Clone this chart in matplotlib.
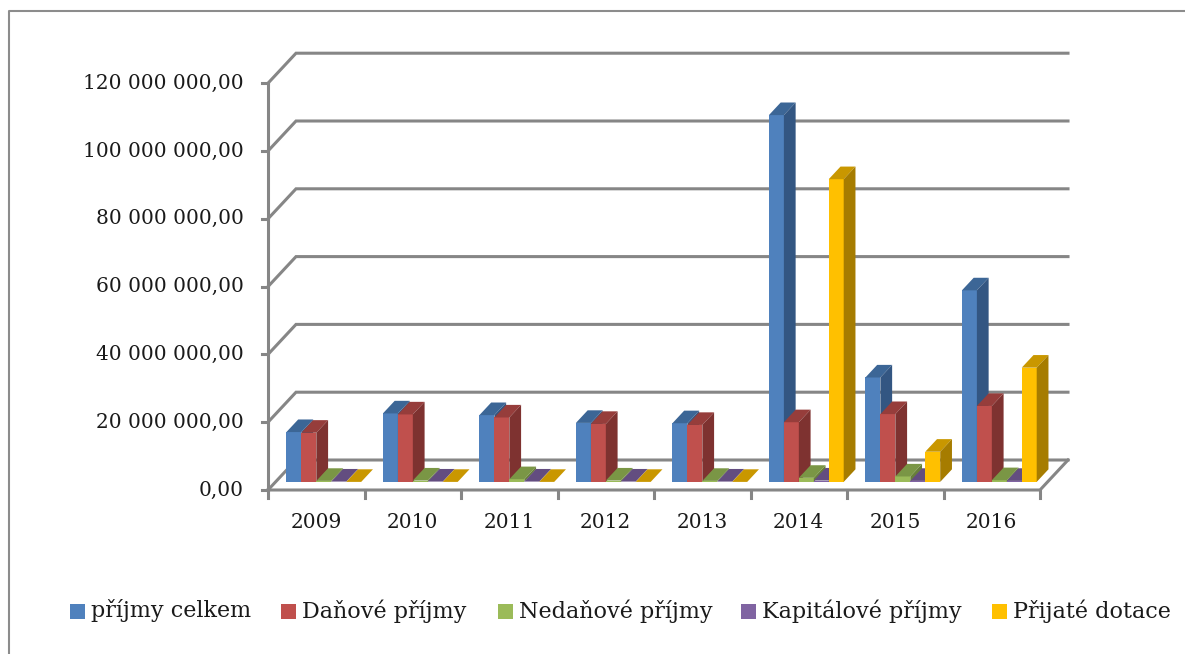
import numpy as np
import matplotlib
matplotlib.use("Agg")
import matplotlib.pyplot as plt
from matplotlib.patches import Polygon, Rectangle

# values in millions CZK
years = ["2009", "2010", "2011", "2012", "2013", "2014", "2015", "2016"]
series_names = ["příjmy celkem", "Daňové příjmy", "Nedaňové příjmy",
                "Kapitálové příjmy", "Přijaté dotace"]
prijmy_celkem = [14.7, 20.2, 19.7, 17.4, 17.3, 108.2, 30.8, 56.5]
danove = [14.5, 19.9, 19.0, 17.1, 16.8, 17.6, 20.0, 22.4]
nedanove = [0.3, 0.4, 0.8, 0.4, 0.3, 1.2, 1.6, 0.5]
kapitalove = [0.1, 0.1, 0.1, 0.1, 0.1, 0.4, 0.3, 0.3]
dotace = [0.0, 0.0, 0.0, 0.0, 0.0, 89.3, 8.9, 33.7]
yticks = [0, 20, 40, 60, 80, 100, 120]
ytick_labels = ["0,00", "20 000 000,00", "40 000 000,00", "60 000 000,00",
                "80 000 000,00", "100 000 000,00", "120 000 000,00"]

series = [prijmy_celkem, danove, nedanove, kapitalove, dotace]
front_cols = ["#4F81BD", "#C0504D", "#9BBB59", "#8064A2", "#FFC000"]
top_cols = ["#3C6696", "#963D3B", "#7A9645", "#634D80", "#C99700"]
side_cols = ["#335682", "#7E3230", "#687F3A", "#56436E", "#A67C00"]

W, H = 1185, 654
fig = plt.figure(figsize=(W / 100, H / 100), dpi=100)
ax = fig.add_axes([0, 0, 1, 1])

# pixel mapping of the front plane
X0, CW = 268, 96.5     # px of category 0, px per category
Y0, YS = 490, 3.39     # px of value 0, px per million
ax.set_xlim((0 - X0) / CW, (W - X0) / CW)
ax.set_ylim((Y0 - H) / YS, Y0 / YS)
ax.axis("off")

DX = 28 / CW   # full depth offset in data units
DY = 30 / YS
grid_c = "#868686"
lw = 2.2
n = len(years)

# walls and gridlines
for v in yticks:
    ax.plot([0, DX, n + DX], [v, v + DY, v + DY], color=grid_c, lw=lw,
            solid_joinstyle="miter", zorder=1)
    ax.plot([-6 / CW, 0], [v, v], color=grid_c, lw=lw, zorder=1)
ax.plot([0, 0], [0, yticks[-1]], color=grid_c, lw=lw, zorder=1)
ax.plot([0, n, n + DX], [0, 0, DY], color=grid_c, lw=lw, zorder=1,
        solid_joinstyle="miter")
for i in range(n + 1):
    ax.plot([i, i], [0, -8 / YS], color=grid_c, lw=lw, zorder=1)

for v, lab in zip(yticks, ytick_labels):
    ax.text(-24 / CW, v, lab, ha="right", va="center", fontsize=14.5,
            family="DejaVu Serif", color="#1a1a1a")
for i, y in enumerate(years):
    ax.text(i + 0.5, -33 / YS, y, ha="center", va="center", fontsize=14.5,
            family="DejaVu Serif", color="#1a1a1a")

# 3d-looking bars
d0 = 0.27
bd = 0.42
w = 0.155
z = 3
for i in range(n):
    for k, vals in enumerate(series):
        xl = i + 0.5 - 2.5 * w + k * w + d0 * DX
        yb = d0 * DY
        v = vals[i]
        yt = yb + v
        ax.bar(xl, v, width=w, bottom=yb, align="edge", color=front_cols[k],
               linewidth=0, zorder=z)
        ax.add_patch(Polygon([(xl, yt), (xl + w, yt),
                              (xl + w + bd * DX, yt + bd * DY),
                              (xl + bd * DX, yt + bd * DY)],
                             closed=True, fc=top_cols[k], lw=0, zorder=z))
        ax.add_patch(Polygon([(xl + w, yb), (xl + w, yt),
                              (xl + w + bd * DX, yt + bd * DY),
                              (xl + w + bd * DX, yb + bd * DY)],
                             closed=True, fc=side_cols[k], lw=0, zorder=z))
        z += 1

# legend
leg_sq = [70, 281, 498, 741, 992]
for k, name in enumerate(series_names):
    fig.patches.append(Rectangle((leg_sq[k] / W, 1 - 619 / H), 15 / W, 15 / H,
                                 transform=fig.transFigure,
                                 fc=front_cols[k], lw=0))
    fig.text((leg_sq[k] + 21) / W, 1 - 611 / H, name, ha="left", va="center",
             fontsize=16, family="DejaVu Serif", color="#1a1a1a")

# chart border
fig.add_artist(plt.Line2D([9 / W, 9 / W, 1], [0, 1 - 11 / H, 1 - 11 / H],
                          transform=fig.transFigure, color="#8c8c8c", lw=1.5))

fig.savefig("out.png", dpi=100)
